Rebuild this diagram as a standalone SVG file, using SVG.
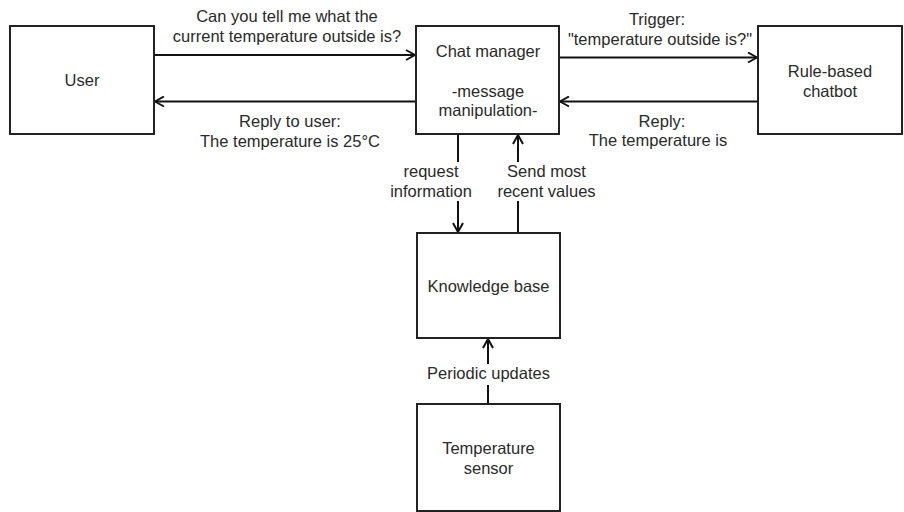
<svg xmlns="http://www.w3.org/2000/svg" width="904" height="512" viewBox="0 0 904 512">
<defs>
<style>
.box{fill:#fff;stroke:#222;stroke-width:2}
.edge{fill:none;stroke:#111;stroke-width:2}
.t{font-family:"Liberation Sans",Arial,sans-serif;font-size:16.5px;fill:#2a2a2a;text-anchor:middle}
.bg{fill:#fff}
</style>
<marker id="arr" viewBox="0 0 12 12" refX="11" refY="6" markerWidth="12" markerHeight="12" markerUnits="userSpaceOnUse" orient="auto">
<path d="M2,1 L11,6 L2,11" fill="none" stroke="#111" stroke-width="2"/>
</marker>
</defs>
<rect width="904" height="512" fill="#fff"/>
<g id="connectors">
<line class="edge" x1="154" y1="55" x2="415" y2="55" marker-end="url(#arr)"/>
<line class="edge" x1="416" y1="101.5" x2="155" y2="101.5" marker-end="url(#arr)"/>
<line class="edge" x1="559" y1="57.5" x2="757" y2="57.5" marker-end="url(#arr)"/>
<line class="edge" x1="758" y1="101.5" x2="560" y2="101.5" marker-end="url(#arr)"/>
<line class="edge" x1="458" y1="134" x2="458" y2="232" marker-end="url(#arr)"/>
<line class="edge" x1="518" y1="233" x2="518" y2="135" marker-end="url(#arr)"/>
<line class="edge" x1="488" y1="404" x2="488" y2="339" marker-end="url(#arr)"/>
<text class="t" x="287" y="22">Can you tell me what the</text>
<text class="t" x="287" y="42">current temperature outside is?</text>
<text class="t" x="290" y="127">Reply to user:</text>
<text class="t" x="290" y="146.5">The temperature is 25°C</text>
<text class="t" x="657" y="25">Trigger:</text>
<text class="t" x="660" y="44.5">"temperature outside is?"</text>
<text class="t" x="662" y="126.5">Reply:</text>
<text class="t" x="658" y="146">The temperature is</text>
<rect class="bg" x="398" y="162" width="68" height="39"/>
<text class="t" x="431" y="177">request</text>
<text class="t" x="431" y="196.5">information</text>
<rect class="bg" x="500" y="162" width="96" height="39"/>
<text class="t" x="546.5" y="177">Send most</text>
<text class="t" x="546.5" y="196.5">recent values</text>
<rect class="bg" x="424" y="364" width="128" height="21"/>
<text class="t" x="488.5" y="379">Periodic updates</text>
</g>
<g id="user">
<rect class="box" x="10" y="26" width="144" height="108"/>
<text class="t" x="82" y="86">User</text>
</g>
<g id="chat-manager">
<rect class="box" x="416" y="26" width="143" height="108"/>
<text class="t" x="488" y="57">Chat manager</text>
<text class="t" x="488" y="96.5">-message</text>
<text class="t" x="488" y="116">manipulation-</text>
</g>
<g id="rule-based-chatbot">
<rect class="box" x="758" y="26" width="144" height="108"/>
<text class="t" x="830" y="76.5">Rule-based</text>
<text class="t" x="830" y="96.5">chatbot</text>
</g>
<g id="knowledge-base">
<rect class="box" x="417" y="233" width="143" height="105"/>
<text class="t" x="488.5" y="292">Knowledge base</text>
</g>
<g id="temperature-sensor">
<rect class="box" x="417" y="404" width="143" height="107"/>
<text class="t" x="488.5" y="453.5">Temperature</text>
<text class="t" x="488.5" y="473.5">sensor</text>
</g>
</svg>
